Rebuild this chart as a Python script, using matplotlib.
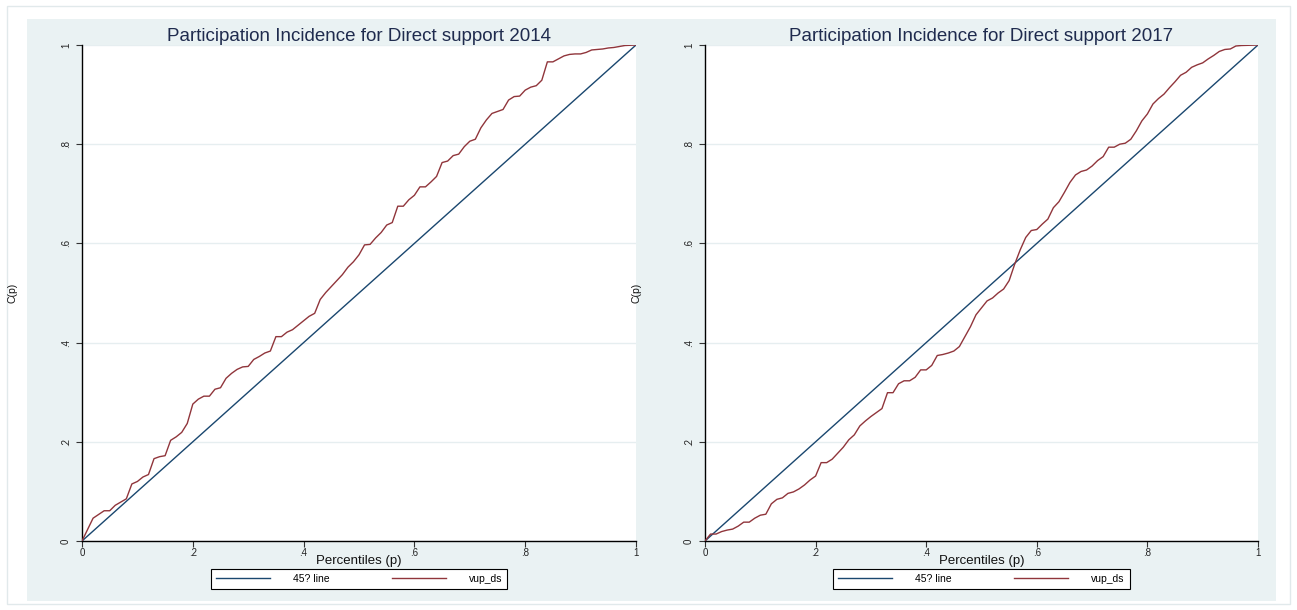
import matplotlib
matplotlib.use("Agg")
import matplotlib.pyplot as plt
from matplotlib.patches import Rectangle

plt.rcParams['font.family'] = ['Liberation Sans', 'DejaVu Sans']

# Concentration curves C(p) against population percentiles p
pct_2014 = [0, .02, .04, .05, .06, .08, .09, .10, .11, .12, .13, .14, .15, .16, .17,
            .18, .19, .20, .21, .22, .23, .24, .25, .26, .27, .28, .29, .30, .31, .32,
            .33, .34, .35, .36, .37, .38, .39, .40, .41, .42, .43, .44, .45, .46, .47,
            .48, .49, .50, .51, .52, .53, .54, .55, .56, .57, .58, .59, .60, .61, .62,
            .63, .64, .65, .66, .67, .68, .69, .70, .71, .72, .73, .74, .75, .76, .77,
            .78, .79, .80, .81, .82, .83, .84, .85, .86, .87, .88, .89, .90, .91, .92,
            .93, .94, .95, .96, .97, .98, 1.0]
cp_2014 = [0, .046, .061, .061, .072, .085, .115, .120, .129, .134, .166, .170, .172, .203, .210,
           .219, .237, .276, .286, .292, .292, .306, .309, .328, .338, .346, .351, .352, .366, .372,
           .379, .383, .412, .412, .421, .426, .435, .444, .453, .459, .487, .501, .513, .525, .537,
           .552, .563, .577, .597, .598, .611, .622, .637, .642, .675, .675, .688, .697, .714, .714,
           .724, .735, .763, .766, .777, .780, .795, .806, .810, .833, .849, .862, .866, .870, .889,
           .896, .897, .909, .915, .918, .929, .966, .966, .972, .978, .981, .982, .982, .985, .990,
           .991, .992, .994, .995, .997, .999, 1.0]

pct_2017 = [0, .01, .02, .03, .04, .05, .06, .07, .08, .09, .10, .11, .12, .13, .14, .15,
            .16, .17, .18, .19, .20, .21, .22, .23, .24, .25, .26, .27, .28, .29, .30, .31,
            .32, .33, .34, .35, .36, .37, .38, .39, .40, .41, .42, .43, .44, .45, .46, .47,
            .48, .49, .50, .51, .52, .53, .54, .55, .56, .57, .58, .59, .60, .61, .62, .63,
            .64, .65, .66, .67, .68, .69, .70, .71, .72, .73, .74, .75, .76, .77, .78, .79,
            .80, .81, .82, .83, .84, .85, .86, .87, .88, .89, .90, .91, .92, .93, .94, .95,
            .96, .97, 1.0]
cp_2017 = [0, .014, .014, .019, .022, .024, .030, .038, .038, .046, .052, .054, .075, .084, .087, .096,
           .099, .105, .113, .123, .131, .158, .158, .165, .177, .189, .204, .214, .232, .242, .251, .259,
           .267, .299, .299, .317, .323, .323, .330, .345, .345, .354, .374, .376, .379, .383, .392, .412,
           .432, .456, .470, .484, .490, .500, .508, .525, .558, .587, .612, .626, .628, .639, .649, .672,
           .684, .703, .723, .738, .745, .748, .756, .767, .775, .794, .794, .800, .802, .810, .827, .847,
           .861, .881, .892, .901, .914, .926, .939, .945, .955, .960, .964, .972, .979, .987, .991, .992,
           .998, .999, 1.0]

# Line of equality
diag_p = [0, 1]
diag_c = [0, 1]

tick_values = [0, .2, .4, .6, .8, 1]
tick_labels = ["0", ".2", ".4", ".6", ".8", "1"]
titles = ["Participation Incidence for Direct support 2014",
          "Participation Incidence for Direct support 2017"]
series_names = ["45? line", "vup_ds"]
x_title = "Percentiles (p)"
y_title = "C(p)"

NAVY = "#1a476f"
MAROON = "#90353b"
BG = "#eaf2f3"

W, H = 1297, 610
fig = plt.figure(figsize=(W / 100, H / 100), dpi=100)
fig.patch.set_facecolor("white")

# thin outer frame and shaded graph region
fig.patches.append(Rectangle((7 / W, 1 - 604 / H), (1290 - 7) / W, (604 - 6) / H,
                             transform=fig.transFigure, fill=False, ec="#e1e9eb",
                             lw=1.0, zorder=-2))
fig.patches.append(Rectangle((27 / W, 1 - 601 / H), (1276 - 27) / W, (601 - 19) / H,
                             transform=fig.transFigure, fc=BG, ec="none", zorder=-1))

axes_px = [(82, 554), (705, 553)]
top_px, bottom_px = 45, 541
panels = [(pct_2014, cp_2014), (pct_2017, cp_2017)]

for (left, width), (p, c), title in zip(axes_px, panels, titles):
    ax = fig.add_axes([left / W, (H - bottom_px) / H, width / W, (bottom_px - top_px) / H])
    ax.set_facecolor("white")
    ax.plot(diag_p, diag_c, color=NAVY, lw=1.0, label=series_names[0], zorder=3)
    ax.plot(p, c, color=MAROON, lw=1.0, label=series_names[1], zorder=3)
    ax.set_xlim(0, 1)
    ax.set_ylim(0, 1)

    for s in ("top", "right"):
        ax.spines[s].set_visible(False)
    for s in ("left", "bottom"):
        ax.spines[s].set_color("black")
        ax.spines[s].set_linewidth(1.0)

    ax.set_xticks(tick_values, tick_labels)
    ax.set_yticks(tick_values, tick_labels)
    ax.tick_params(axis="both", direction="out", length=4, width=0.8,
                   color="#333333", labelcolor="#222222", labelsize=7)
    ax.tick_params(axis="x", pad=1.2)
    ax.tick_params(axis="y", pad=4)
    for lab in ax.get_yticklabels():
        lab.set_rotation(90)
        lab.set_va("center")

    ax.grid(axis="y", color="#e6eef0", lw=1.0)
    ax.set_axisbelow(True)

    ax.set_title(title, fontsize=13.5, color="#1f2b4e", pad=2.5)

    ax.set_xlabel(x_title, fontsize=9.5, color="#111111")
    ax.xaxis.label.set_va("center")
    ax.xaxis.set_label_coords(0.5, -(561 - bottom_px) / (bottom_px - top_px))

    ax.set_ylabel(y_title, fontsize=7.5, color="#111111")
    ax.yaxis.label.set_va("center")
    ax.yaxis.set_label_coords(-69 / width, 0.5)

    leg = ax.legend(loc="center", bbox_to_anchor=(0.5, -(579 - bottom_px) / (bottom_px - top_px)),
                    ncol=2, fontsize=7.5, handlelength=5.2, handletextpad=2.2,
                    columnspacing=6.0, borderpad=0.45, frameon=True, fancybox=False,
                    edgecolor="black", facecolor="white", framealpha=1.0)
    leg.get_frame().set_linewidth(0.8)

fig.savefig("out.png", dpi=100, facecolor="white")
